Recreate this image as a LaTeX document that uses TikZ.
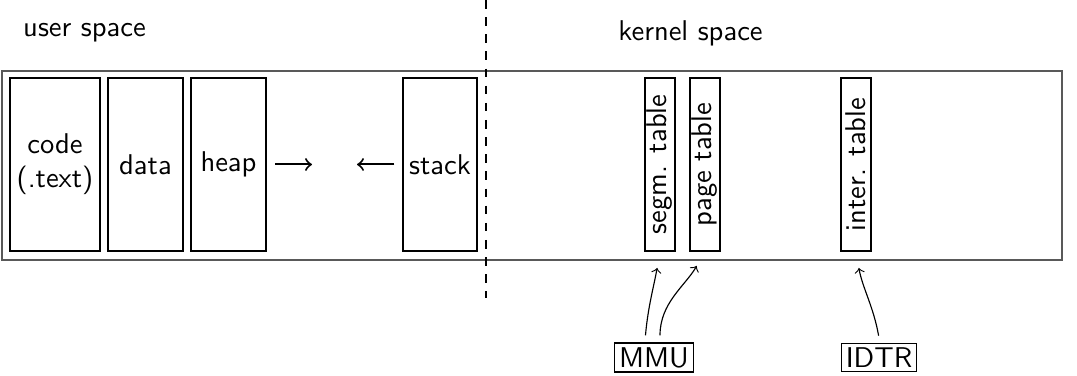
\documentclass[tikz,border=0pt]{standalone}
\usepackage{amsmath, amssymb, tikz}
\usetikzlibrary{arrows}

\begin{document}
\begin{tikzpicture}[x=0.35pt, y=0.35pt, font=\sffamily]
	\tikzstyle{seg} = [draw, thin, inner sep=1pt, minimum height=60.55pt, align=center]
	\tikzstyle{tab} = [draw, thin, rotate=90, inner sep=0.5pt, minimum width=60.55pt, minimum height=10.5pt]
	\tikzstyle{reg} = [draw, thin, inner sep=1.5pt]
	\tikzstyle{growth} = [-to, line width=0.7pt]
	\useasboundingbox (0,0) rectangle (1077,376);
	\node [draw=black!65, line width=0.6pt, minimum width=371pt, minimum height=66.15pt] (mem) at (532,210.5) {};
	\node (us) at (84.5,343) {user space}; \node (ks) at (690.5,343) {kernel space};
	\coordinate (top) at (486,376); \coordinate (bot) at (486,78);
	\draw [dashed] (top) -- (bot);
	
	\node [seg, minimum width=31.5pt] (code) at (55,211.5) {code\\(.text)}; \node [seg, minimum width=26.25pt] (data) at (145.5,211.5) {data}; \node [seg, minimum width=26.25pt] (heap) at (228.5,211.5) {heap}; \node [seg, minimum width=25.9pt] (stack) at (440,211.5) {stack};
	\coordinate (hend) at (312,211.5); \coordinate (send) at (357,211.5);
	\draw [growth, shorten <=3.1pt] (heap.east) -- (hend); \draw [growth, shorten <=2.8pt] (stack.west) -- (send);
	
	\node [tab] (segm) at (660,211.5) {segm. table}; \node [tab] (page) at (705,211.5) {page table}; \node [tab] (inter) at (856,211.5) {inter. table};
	\node [reg] (mmu) at (654,18.5) {MMU}; \node [reg] (idtr) at (879,18.5) {IDTR};
	
	\draw [->, shorten <=2.5pt, shorten >=5.8pt] ([xshift=-3.2pt]mmu.north) to[out=85, in=-100] (segm.west); \draw [->, shorten <=2.5pt, shorten >=5.8pt] ([xshift=2.1pt]mmu.north) to[out=90, in=-120] (page.west);
	\draw [->, shorten <=2.5pt, shorten >=5.8pt] ([xshift=0.3pt]idtr.north) to[out=100, in=-80] (inter.west);
\end{tikzpicture}
\end{document}
